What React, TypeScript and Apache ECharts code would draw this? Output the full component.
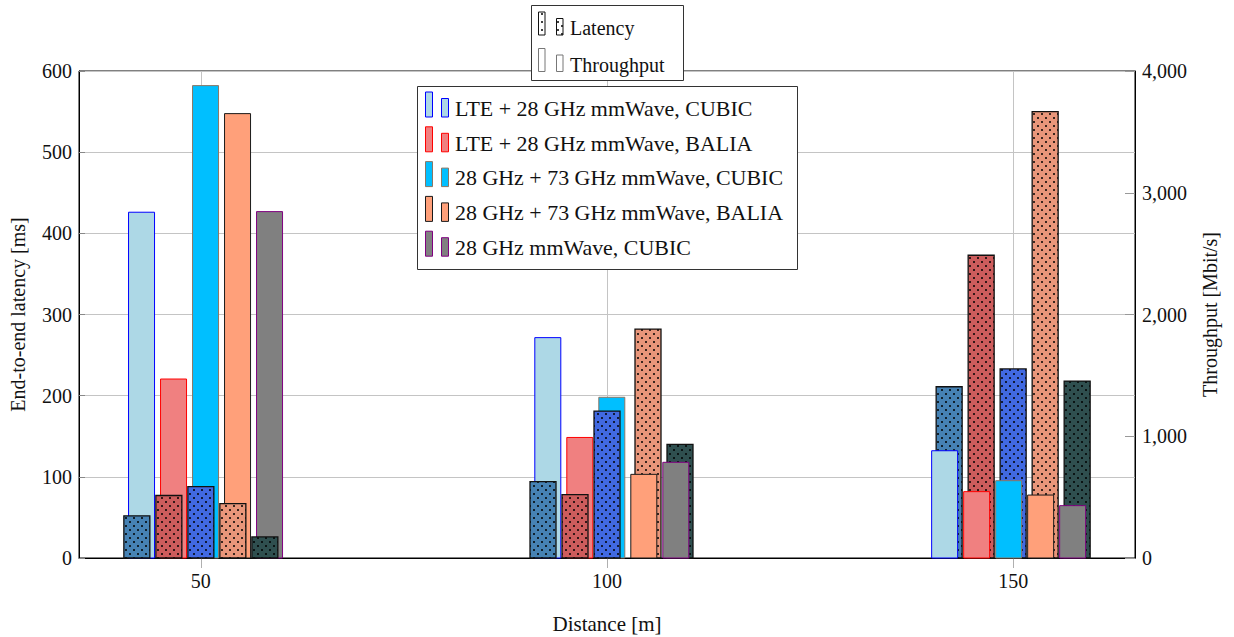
import React, { useEffect, useRef } from "react";
import * as echarts from "echarts";

// ---------------- data ----------------
const distances = [50, 100, 150];
const xTickValues = [50, 100, 150];
const configNames = [
  "LTE + 28 GHz mmWave, CUBIC",
  "LTE + 28 GHz mmWave, BALIA",
  "28 GHz + 73 GHz mmWave, CUBIC",
  "28 GHz + 73 GHz mmWave, BALIA",
  "28 GHz mmWave, CUBIC",
];
const metricNames = ["Latency", "Throughput"];

// End-to-end latency [ms] per distance
const latencyLteCubic = [52, 94, 211];
const latencyLteBalia = [77, 78, 373];
const latency2873Cubic = [88, 181, 233];
const latency2873Balia = [67, 282, 550];
const latency28Cubic = [26, 140, 218];

// Throughput [Mbit/s] per distance
const throughputLteCubic = [2840, 1810, 881];
const throughputLteBalia = [1470, 990, 545];
const throughput2873Cubic = [3880, 1320, 635];
const throughput2873Balia = [3650, 687, 517];
const throughput28Cubic = [2845, 786, 430];

const latencyValues = [latencyLteCubic, latencyLteBalia, latency2873Cubic, latency2873Balia, latency28Cubic];
const throughputValues = [throughputLteCubic, throughputLteBalia, throughput2873Cubic, throughput2873Balia, throughput28Cubic];

// ---------------- styles / layout ----------------
const FONT = '"Liberation Serif", "Times New Roman", serif';
const TEXT = "#111";
const latencyFill = ["#4682B4", "#CD5C5C", "#4169E1", "#E9967A", "#2F4F4F"];
const throughputFill = ["#ADD8E6", "#F08080", "#00BFFF", "#FFA07A", "#808080"];
const throughputStroke = ["#0000FF", "#FF0000", "#8B7765", "#1a1a1a", "#800080"];
const BAR_W = 26;
const SLOT = 32;
const throughputShift = [4.7, 4.8, -4.5];
const latencyShift = [
  [0, 0, 0],
  [0, 0, 0],
  [0, 0, 0],
  [0, 9, 0],
  [0, 9, 0],
];
const latencyInFront = [
  [1, 1, 0],
  [1, 1, 0],
  [1, 1, 0],
  [1, 0, 0],
  [1, 0, 0],
];

function dotPattern(bg: string) {
  const cv = document.createElement("canvas");
  cv.width = 8;
  cv.height = 8;
  const ctx = cv.getContext("2d")!;
  ctx.fillStyle = bg;
  ctx.fillRect(0, 0, 8, 8);
  ctx.fillStyle = "#000";
  for (const [x, y] of [
    [2, 2],
    [6, 6],
  ]) {
    ctx.beginPath();
    ctx.arc(x, y, 1.0, 0, Math.PI * 2);
    ctx.fill();
  }
  return { image: cv.toDataURL(), repeat: "repeat", imageWidth: 8, imageHeight: 8 } as any;
}

export default function App() {
  const ref = useRef<HTMLDivElement>(null);
  useEffect(() => {
    const chart = echarts.init(ref.current!, null, { renderer: "svg" });
    const dotted = latencyFill.map((c) => dotPattern(c));
    const dottedWhite = dotPattern("#ffffff");

    const latData: number[][] = [];
    latencyValues.forEach((arr, c) => arr.forEach((v, d) => latData.push([distances[d], v, c, d])));
    const tpData: number[][] = [];
    throughputValues.forEach((arr, c) => arr.forEach((v, d) => tpData.push([distances[d], v, c, d])));

    const makeRender = (kind: "lat" | "tp") => (params: any, api: any) => {
      const xv = api.value(0);
      const yv = api.value(1);
      const c = api.value(2);
      const d = api.value(3);
      const base = api.coord([xv, 0]);
      const top = api.coord([xv, yv]);
      const shift = kind === "lat" ? latencyShift[c][d] : throughputShift[d];
      const cx = base[0] + (c - 2) * SLOT + shift;
      const front = latencyInFront[c][d] === 1;
      const z2 = kind === "lat" ? (front ? 20 : 5) + c : (front ? 5 : 20) + c;
      return {
        type: "rect",
        shape: { x: cx - BAR_W / 2, y: top[1], width: BAR_W, height: base[1] - top[1] },
        style:
          kind === "lat"
            ? { fill: dotted[c], stroke: "#111", lineWidth: 1.3 }
            : { fill: throughputFill[c], stroke: throughputStroke[c], lineWidth: 1 },
        z2,
      };
    };

    // legends drawn as graphic elements
    const g: any[] = [];
    // main legend
    g.push({
      type: "rect",
      z: 100,
      shape: { x: 417.5, y: 86.5, width: 380, height: 183 },
      style: { fill: "#fff", stroke: "#333", lineWidth: 1 },
    });
    configNames.forEach((name, i) => {
      const rowTop = 92 + i * 34.8;
      g.push({
        type: "rect",
        z: 101,
        shape: { x: 425.5, y: rowTop, width: 7, height: 25 },
        style: { fill: throughputFill[i], stroke: throughputStroke[i], lineWidth: 1 },
      });
      g.push({
        type: "rect",
        z: 101,
        shape: { x: 441.5, y: rowTop + 6.5, width: 7, height: 18.5 },
        style: { fill: throughputFill[i], stroke: throughputStroke[i], lineWidth: 1 },
      });
      g.push({
        type: "text",
        z: 101,
        x: 455,
        y: rowTop + 17,
        scaleX: 1.045,
        style: {
          text: name,
          x: 0,
          y: 0,
          fill: TEXT,
          fontSize: 21,
          fontFamily: FONT,
          verticalAlign: "middle",
          align: "left",
        },
      });
    });
    // metric legend (top)
    g.push({
      type: "rect",
      z: 100,
      shape: { x: 531.5, y: 5.5, width: 152, height: 75 },
      style: { fill: "#fff", stroke: "#333", lineWidth: 1 },
    });
    metricNames.forEach((name, i) => {
      const bottom = 35 + i * 36.5;
      const fill = i === 0 ? dottedWhite : "#fff";
      const stroke = i === 0 ? "#111" : "#777";
      g.push({
        type: "rect",
        z: 101,
        shape: { x: 538.5, y: bottom - 23, width: 6.5, height: 23 },
        style: { fill, stroke, lineWidth: 1 },
      });
      g.push({
        type: "rect",
        z: 101,
        shape: { x: 556.5, y: bottom - 16.5, width: 6.5, height: 16.5 },
        style: { fill, stroke, lineWidth: 1 },
      });
      g.push({
        type: "text",
        z: 101,
        style: {
          text: name,
          x: 570,
          y: bottom - 6.8,
          fill: TEXT,
          fontSize: 20,
          fontFamily: FONT,
          verticalAlign: "middle",
          align: "left",
        },
      });
    });

    const option: any = {
      animation: false,
      backgroundColor: "#fff",
      textStyle: { fontFamily: FONT },
      grid: {
        left: 79,
        right: 99,
        top: 71,
        bottom: 79,
        show: true,
        borderColor: "#000",
        borderWidth: 1,
        backgroundColor: "transparent",
        outerBoundsMode: "none",
      },
      xAxis: {
        type: "value",
        min: 35,
        max: 165,
        name: "Distance [m]",
        nameLocation: "middle",
        nameGap: 55,
        nameTextStyle: { fontSize: 21, fontFamily: FONT, color: TEXT },
        axisLine: { show: true, lineStyle: { color: "#000", width: 1 } },
        axisTick: { show: true, inside: false, length: 10, customValues: xTickValues, lineStyle: { color: "#b0b0b0" } },
        axisLabel: { customValues: xTickValues, margin: 13, fontSize: 20, fontFamily: FONT, color: TEXT },
        splitLine: { show: true, lineStyle: { color: "#c4c4c4", width: 1 } },
      },
      yAxis: [
        {
          type: "value",
          min: 0,
          max: 600,
          interval: 100,
          position: "left",
          name: "End-to-end latency [ms]",
          nameLocation: "middle",
          nameRotate: 90,
          nameGap: 51,
          nameTextStyle: { fontSize: 20, fontFamily: FONT, color: TEXT },
          axisLine: { show: true, lineStyle: { color: "#000", width: 1 } },
          axisTick: { show: true, inside: true, length: 6, lineStyle: { color: "#888" } },
          axisLabel: { margin: 7, fontSize: 20, fontFamily: FONT, color: TEXT },
          splitLine: { show: true, lineStyle: { color: "#c4c4c4", width: 1 } },
        },
        {
          type: "value",
          min: 0,
          max: 4000,
          interval: 1000,
          position: "right",
          name: "Throughput [Mbit/s]",
          nameLocation: "middle",
          nameRotate: 90,
          nameGap: 65,
          nameTextStyle: { fontSize: 20, fontFamily: FONT, color: TEXT },
          axisLine: { show: true, lineStyle: { color: "#000", width: 1 } },
          axisTick: { show: true, inside: true, length: 10, lineStyle: { color: "#999" } },
          axisLabel: {
            margin: 7,
            fontSize: 20,
            fontFamily: FONT,
            color: TEXT,
            formatter: (v: number) => v.toLocaleString("en-US"),
          },
          splitLine: { show: false },
        },
      ],
      series: [
        {
          name: "Latency",
          type: "custom",
          xAxisIndex: 0,
          yAxisIndex: 0,
          z: 2,
          encode: { x: 0, y: 1 },
          data: latData,
          renderItem: makeRender("lat"),
        },
        {
          name: "Throughput",
          type: "custom",
          xAxisIndex: 0,
          yAxisIndex: 1,
          z: 2,
          encode: { x: 0, y: 1 },
          data: tpData,
          renderItem: makeRender("tp"),
        },
      ],
      graphic: g,
    };
    chart.setOption(option);
    return () => chart.dispose();
  }, []);
  return <div ref={ref} style={{ position: "absolute", left: 0, top: 0, width: 1234, height: 637 }} />;
}
